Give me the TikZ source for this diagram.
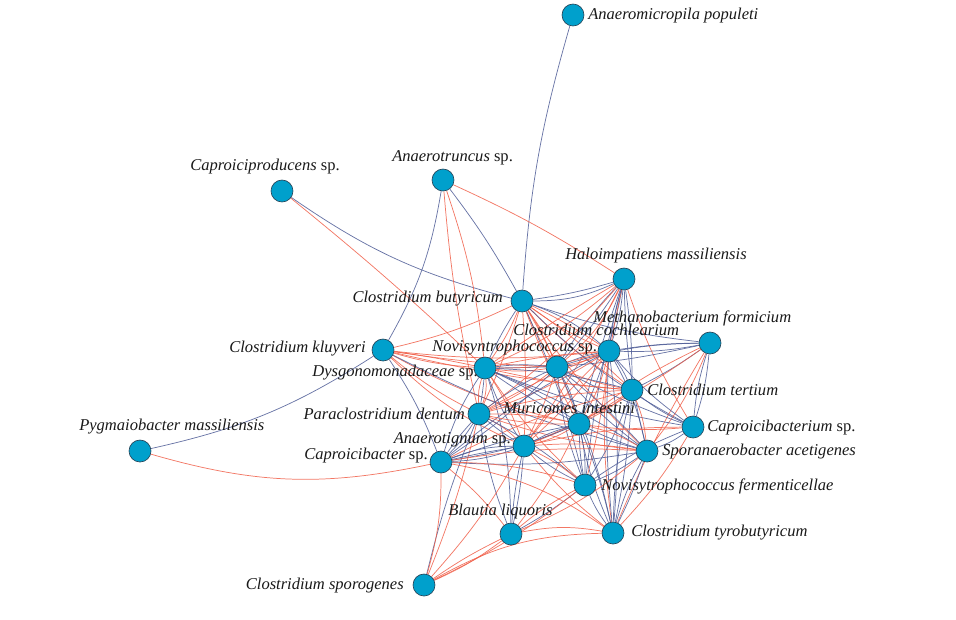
\documentclass[tikz,border=0pt]{standalone}
\usepackage{fontspec}
\setmainfont{Liberation Serif}
\usetikzlibrary{backgrounds}
\definecolor{edgered}{RGB}{240,96,74}
\definecolor{edgeblue}{RGB}{78,92,150}
\definecolor{nodefill}{RGB}{0,160,204}
\definecolor{nodeline}{RGB}{40,70,90}
\tikzset{
  taxon/.style={circle,fill=nodefill,draw=nodeline,line width=0.5pt,minimum size=16.5pt,inner sep=0pt},
  lab/.style={font=\fontsize{12.4}{14}\selectfont\itshape,inner sep=0pt,text=black!90},
  plink/.style={draw=edgered,line width=0.55pt,opacity=0.85},
  nlink/.style={draw=edgeblue,line width=0.55pt,opacity=0.85},
}
\begin{document}
\begin{tikzpicture}[x=0.75pt,y=-0.75pt]
\useasboundingbox (0,0) rectangle (956,619);
% nodes
\node[taxon] (AP) at (573,15) {};
\node[taxon] (AT) at (443,180) {};
\node[taxon] (CP) at (282,191) {};
\node[taxon] (HM) at (624,279) {};
\node[taxon] (CB) at (522,301) {};
\node[taxon] (MF) at (710,343) {};
\node[taxon] (CC) at (609,351) {};
\node[taxon] (CK) at (383,350) {};
\node[taxon] (DY) at (485,368) {};
\node[taxon] (NS) at (557,367) {};
\node[taxon] (CT) at (632,390) {};
\node[taxon] (PD) at (479,414) {};
\node[taxon] (MI) at (579,424) {};
\node[taxon] (CM) at (693,427) {};
\node[taxon] (PM) at (140,451) {};
\node[taxon] (AN) at (524,446) {};
\node[taxon] (CR) at (441,462) {};
\node[taxon] (SA) at (647,451) {};
\node[taxon] (NF) at (585,485) {};
\node[taxon] (BL) at (511,534) {};
\node[taxon] (TY) at (613,533) {};
\node[taxon] (CS) at (424,585) {};
% labels
\node[lab,anchor=west] (lAP) at (588,16) {Anaeromicropila populeti};
\node[lab,anchor=west] (lAT) at (392,158) {Anaerotruncus \upshape sp.};
\node[lab,anchor=west] (lCP) at (190,167) {Caproiciproducens \upshape sp.};
\node[lab,anchor=west] (lHM) at (565,256) {Haloimpatiens massiliensis};
\node[lab,anchor=east] (lCB) at (503,299) {Clostridium butyricum};
\node[lab,anchor=west] (lMF) at (593,318) {Methanobacterium formicium};
\node[lab,anchor=west] (lCC) at (513,330) {Clostridium cochlearium};
\node[lab,anchor=west] (lNS) at (432,348) {Novisyntrophococcus \upshape sp.};
\node[lab,anchor=east] (lCK) at (366,349) {Clostridium kluyveri};
\node[lab,anchor=east] (lDY) at (478,373) {Dysgonomonadaceae \upshape sp.};
\node[lab,anchor=west] (lCT) at (647,390) {Clostridium tertium};
\node[lab,anchor=east] (lPD) at (465,414) {Paraclostridium dentum};
\node[lab,anchor=west] (lMI) at (503,408) {Muricomes intestini};
\node[lab,anchor=west] (lCM) at (707,428) {Caproicibacterium \upshape sp.};
\node[lab,anchor=west] (lPM) at (79,427) {Pygmaiobacter massiliensis};
\node[lab,anchor=east] (lAN) at (511,440) {Anaerotignum \upshape sp.};
\node[lab,anchor=east] (lCR) at (428,456) {Caproicibacter \upshape sp.};
\node[lab,anchor=west] (lSA) at (662,452) {Sporanaerobacter acetigenes};
\node[lab,anchor=west] (lNF) at (601,486) {Novisytrophococcus fermenticellae};
\node[lab,anchor=west] (lBL) at (448,512) {Blautia liquoris};
\node[lab,anchor=west] (lTY) at (631,533) {Clostridium tyrobutyricum};
\node[lab,anchor=east] (lCS) at (404,586) {Clostridium sporogenes};
% edges
\begin{pgfonlayer}{background}
\foreach \a/\b/\c/\bb in {
 AP/CB/nlink/-6, CP/CB/nlink/-10, CP/DY/plink/2, AT/CK/nlink/10, AT/DY/plink/6, AT/CB/nlink/4,
 AT/HM/plink/4, AT/PD/plink/-4, CK/CB/plink/-6, CK/PM/nlink/10, CK/CR/nlink/6, PM/CR/plink/-14,
 CK/DY/plink/2, CK/DY/plink/-6, CK/NS/plink/-3, CK/CC/plink/-6, CK/PD/plink/-6, CK/MI/plink/-8,
 CK/CT/plink/-4, CK/AN/plink/-10, CK/SA/nlink/-6,
 CB/HM/nlink/-12, CB/HM/nlink/-4, CB/MF/nlink/-6, CB/CC/plink/4, CB/CC/plink/-6, CB/CC/nlink/10,
 CB/NS/plink/5, CB/NS/plink/-5, CB/DY/plink/6, CB/DY/nlink/-4, CB/CT/plink/4, CB/CT/plink/-6,
 CB/PD/plink/4, CB/MI/plink/6, CB/MI/plink/-4, CB/AN/plink/3, CB/SA/plink/-6, CB/CM/nlink/-8, CB/NF/nlink/5,
 HM/CC/nlink/6, HM/CC/nlink/-4, HM/NS/nlink/4, HM/NS/nlink/-6, HM/NS/plink/12, HM/DY/plink/8, HM/DY/plink/-2,
 HM/CT/nlink/4, HM/MI/nlink/6, HM/MI/nlink/-2, HM/SA/nlink/-6, HM/CM/plink/-6, HM/TY/plink/-10, HM/NF/nlink/-4,
 HM/AN/plink/4, HM/PD/plink/6,
 MF/CC/nlink/6, MF/CC/nlink/-4, MF/NS/nlink/-8, MF/DY/nlink/6, MF/CT/nlink/4, MF/MI/plink/-6, MF/AN/plink/6,
 MF/SA/plink/8, MF/TY/plink/-4, MF/CM/nlink/6, MF/CM/nlink/-6,
 CC/NS/plink/6, CC/NS/nlink/-6, CC/DY/plink/8, CC/DY/plink/-4, CC/CT/nlink/6, CC/PD/plink/6, CC/PD/plink/-4,
 CC/MI/plink/8, CC/AN/plink/6, CC/AN/plink/-4, CC/CR/nlink/-6, CC/CM/nlink/-6, CC/SA/nlink/8, CC/NF/plink/4,
 CC/TY/nlink/-4, CC/TY/nlink/6,
 NS/DY/plink/8, NS/DY/nlink/-6, NS/CT/plink/-6, NS/PD/plink/6, NS/PD/nlink/-6, NS/MI/nlink/8, NS/AN/plink/4,
 NS/CR/nlink/6, NS/SA/nlink/-6, NS/SA/nlink/4, NS/NF/nlink/-8, NS/TY/nlink/6, NS/CM/nlink/-4,
 DY/CT/nlink/6, DY/CT/plink/-4, DY/PD/plink/12, DY/PD/plink/-10, DY/PD/nlink/2, DY/MI/nlink/6, DY/MI/nlink/-4,
 DY/AN/plink/6, DY/AN/nlink/-6, DY/CR/nlink/-8, DY/SA/nlink/4, DY/CM/nlink/-6, DY/NF/plink/-6, DY/BL/nlink/8,
 CT/MI/plink/6, CT/PD/plink/-6, CT/AN/plink/6, CT/CR/plink/-6, CT/CM/nlink/-6, CT/SA/plink/8, CT/NF/nlink/6,
 CT/TY/nlink/-6, CT/TY/nlink/4,
 PD/MI/plink/6, PD/MI/plink/-6, PD/AN/plink/8, PD/AN/nlink/-4, PD/CR/nlink/6, PD/CR/nlink/-4, PD/SA/plink/-6,
 PD/NF/nlink/6, PD/BL/nlink/-6, PD/CS/plink/4, PD/CS/nlink/-4,
 MI/AN/plink/8, MI/AN/nlink/-6, MI/CR/nlink/6, MI/CR/nlink/-4, MI/CM/plink/-6, MI/SA/plink/8, MI/SA/nlink/-4,
 MI/NF/nlink/6, MI/NF/nlink/-4, MI/TY/nlink/-6, MI/TY/nlink/4, MI/BL/plink/6,
 CM/SA/nlink/8, CM/NF/nlink/-6, CM/AN/plink/-6, CM/TY/plink/6,
 AN/CR/nlink/8, AN/CR/nlink/-2, AN/CR/nlink/-10, AN/SA/plink/6, AN/NF/nlink/-6, AN/NF/plink/6, AN/BL/nlink/4,
 AN/BL/nlink/-4, AN/TY/plink/-6, AN/CS/plink/6,
 CR/SA/nlink/-6, CR/SA/plink/6, CR/NF/plink/8, CR/BL/plink/6, CR/TY/plink/12, CR/CS/plink/8,
 SA/NF/nlink/6, SA/TY/nlink/-6, SA/TY/nlink/4, SA/BL/plink/8, NF/BL/plink/-6, NF/BL/nlink/4, NF/TY/nlink/-6,
 NF/CS/plink/6, BL/TY/plink/10, BL/CS/plink/6, BL/CS/plink/-4, TY/CS/plink/-14}
 { \draw[\c] (\a) to[bend left=\bb] (\b); }
\end{pgfonlayer}
\end{tikzpicture}
\end{document}
